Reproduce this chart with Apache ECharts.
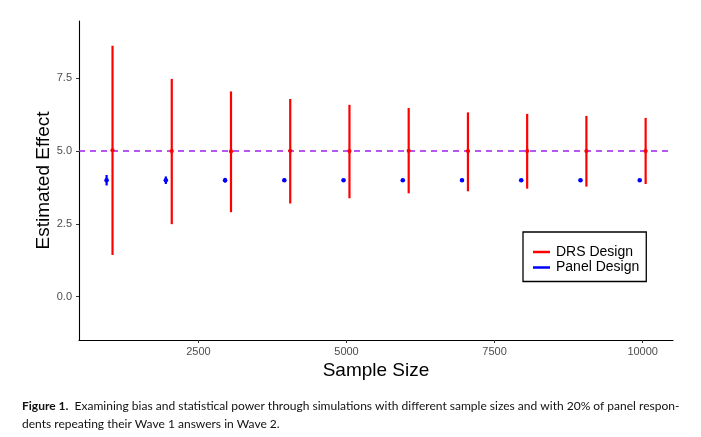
<!DOCTYPE html>
<html>
<head>
<meta charset="utf-8">
<script src="https://cdn.jsdelivr.net/npm/echarts@6/dist/echarts.min.js"></script>
<style>
html,body{margin:0;padding:0;background:#fff;}
#c{width:701px;height:437px;}
</style>
</head>
<body>
<div id="c"></div>
<script>
// ---- data ----
var sampleSizes = [1000, 2000, 3000, 4000, 5000, 6000, 7000, 8000, 9000, 10000];
var dodge = 50;
var drsMean  = [5.03, 5.00, 4.99, 5.01, 5.00, 5.01, 5.00, 5.00, 5.00, 5.00];
var drsLow   = [1.43, 2.49, 2.90, 3.20, 3.38, 3.55, 3.62, 3.71, 3.78, 3.87];
var drsHigh  = [8.62, 7.48, 7.05, 6.79, 6.59, 6.48, 6.33, 6.28, 6.21, 6.14];
var panelMean = [4.00, 4.00, 4.00, 4.00, 4.00, 4.00, 4.00, 4.00, 4.00, 4.00];
var panelLow  = [3.82, 3.87, 3.92, 3.94, 3.95, 3.96, 3.96, 3.97, 3.97, 3.97];
var panelHigh = [4.18, 4.13, 4.08, 4.06, 4.05, 4.04, 4.04, 4.03, 4.03, 4.03];
var trueEffect = 5;
var xTicks = [2500, 5000, 7500, 10000];
var yTicks = [0, 2.5, 5, 7.5];
var seriesNames = ['DRS Design', 'Panel Design'];
var captionBold = 'Figure 1.';
var captionLine1 = 'Examining bias and statistical power through simulations with different sample sizes and with 20% of panel respon-';
var captionLine2 = 'dents repeating their Wave 1 answers in Wave 2.';

var drsData = sampleSizes.map(function (n, i) { return [n + dodge, drsMean[i], drsLow[i], drsHigh[i]]; });
var panelData = sampleSizes.map(function (n, i) { return [n - dodge, panelMean[i], panelLow[i], panelHigh[i]]; });

function makeRender(color, lw, r) {
  return function (params, api) {
    var x = api.value(0);
    var pm = api.coord([x, api.value(1)]);
    var pl = api.coord([x, api.value(2)]);
    var ph = api.coord([x, api.value(3)]);
    return {
      type: 'group',
      children: [
        { type: 'line', shape: { x1: pl[0], y1: pl[1], x2: ph[0], y2: ph[1] },
          style: { stroke: color, lineWidth: lw } },
        { type: 'circle', shape: { cx: pm[0], cy: pm[1], r: r },
          style: { fill: color } }
      ]
    };
  };
}

// caption font fit
var ctx = document.createElement('canvas').getContext('2d');
var capFamily = 'Lato';
ctx.font = '12px ' + capFamily;
var w = ctx.measureText(captionBold + '  ' + captionLine1).width;
var capSize = Math.min(13, 12 * 658 / w);

var chart = echarts.init(document.getElementById('c'), null, { renderer: 'canvas' });
var axisFont = 'Liberation Sans';
chart.setOption({
  animation: false,
  backgroundColor: '#ffffff',
  textStyle: { fontFamily: axisFont },
  grid: { left: 79, top: 21, width: 594, height: 319 },
  xAxis: {
    type: 'value', min: 484, max: 10512,
    name: 'Sample Size', nameLocation: 'middle', nameGap: 21, nameMoveOverlap: false,
    nameTextStyle: { fontSize: 19, color: '#000', fontFamily: axisFont },
    axisLine: { show: true, onZero: false, lineStyle: { color: '#000', width: 1.1 } },
    axisTick: { show: true, length: 3, customValues: xTicks, lineStyle: { color: '#333', width: 1 } },
    axisLabel: { customValues: xTicks, fontSize: 11, color: '#4d4d4d', margin: 6, fontFamily: axisFont,
      formatter: function (v) { return String(v); } },
    splitLine: { show: false }
  },
  yAxis: {
    type: 'value', min: -1.49, max: 9.47,
    name: 'Estimated Effect', nameLocation: 'middle', nameGap: 26, nameMoveOverlap: false,
    nameTextStyle: { fontSize: 19, color: '#000', fontFamily: axisFont },
    axisLine: { show: true, onZero: false, lineStyle: { color: '#000', width: 1.1 } },
    axisTick: { show: true, length: 3, customValues: yTicks, lineStyle: { color: '#333', width: 1 } },
    axisLabel: { customValues: yTicks, fontSize: 11, color: '#4d4d4d', margin: 7, fontFamily: axisFont,
      formatter: function (v) { return v.toFixed(1); } },
    splitLine: { show: false }
  },
  legend: {
    orient: 'vertical', left: 523, top: 232,
    data: seriesNames,
    icon: 'rect', itemWidth: 17, itemHeight: 2.5, itemGap: 1.5,
    padding: [13, 7, 7, 10],
    borderColor: '#000', borderWidth: 1.3,
    textStyle: { fontSize: 14, color: '#000', fontFamily: axisFont, padding: [0, 0, 0, 1] }
  },
  series: [
    {
      name: seriesNames[0], type: 'custom', itemStyle: { color: '#ff0000' },
      renderItem: makeRender('#ff0000', 2.2, 2.1),
      data: drsData, z: 5,
      markLine: {
        silent: true, symbol: 'none', label: { show: false }, z: 1,
        lineStyle: { color: '#a020f0', width: 1.5, type: [6, 5] },
        data: [{ yAxis: trueEffect }]
      }
    },
    {
      name: seriesNames[1], type: 'custom', itemStyle: { color: '#0000ff' },
      renderItem: makeRender('#0000ff', 2.2, 2.3),
      data: panelData, z: 5
    }
  ],
  graphic: [
    {
      type: 'text', left: 22, top: 397,
      style: {
        text: '{b|' + captionBold + '}  ' + captionLine1 + '\n' + captionLine2,
        fontFamily: capFamily, fontSize: capSize, fill: '#111', lineHeight: 18,
        rich: { b: { fontWeight: 'bold', fontFamily: capFamily, fontSize: capSize, fill: '#111' } }
      }
    }
  ]
});
</script>
</body>
</html>
